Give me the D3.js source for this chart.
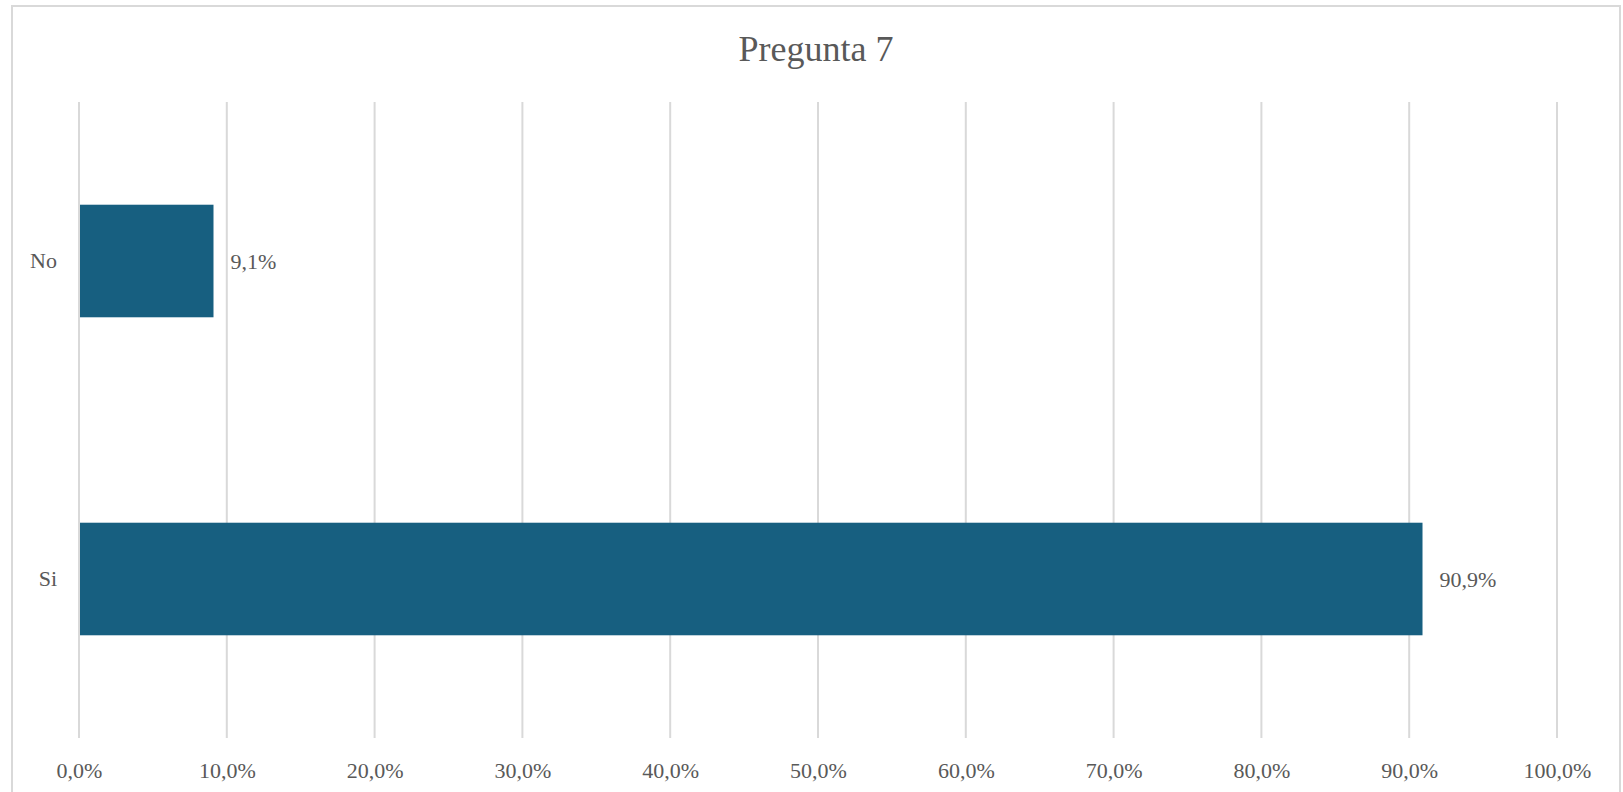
<!DOCTYPE html>
<html>
<head>
<meta charset="utf-8">
<script src="https://cdn.jsdelivr.net/npm/d3@7"></script>
<style>
  body { margin: 0; background: #fff; }
  text { font-family: "Liberation Serif", "Times New Roman", serif; fill: #595959; }
</style>
</head>
<body>
<div id="chart"></div>
<script>
// Chart data
const categories = ["No", "Si"];
const values = [9.1, 90.9];
const tickValues = [0, 10, 20, 30, 40, 50, 60, 70, 80, 90, 100];
const title = "Pregunta 7";

const width = 1623;
const height = 792;
const margin = {top: 102, right: 66, bottom: 54, left: 79};

const svg = d3.select("#chart")
    .append("svg")
    .attr("width", width)
    .attr("height", height);

// outer frame
svg.append("rect")
    .attr("x", 12)
    .attr("y", 6)
    .attr("width", 1608)
    .attr("height", 790)
    .attr("fill", "none")
    .attr("stroke", "#d9d9d9")
    .attr("stroke-width", 2);

const xScale = d3.scaleLinear()
    .domain([0, 100])
    .range([margin.left, width - margin.right]);

const yScale = d3.scaleBand()
    .domain(categories)
    .range([margin.top, height - margin.bottom])
    .paddingInner(0.646)
    .paddingOuter(0.323);

const fmt = v => v.toFixed(1).replace(".", ",") + "%";

// gridlines
svg.append("g")
    .selectAll("line")
    .data(tickValues)
    .join("line")
    .attr("x1", d => xScale(d))
    .attr("x2", d => xScale(d))
    .attr("y1", margin.top)
    .attr("y2", height - margin.bottom)
    .attr("stroke", "#d9d9d9")
    .attr("stroke-width", 2);

// x axis labels
const xAxis = svg.append("g")
    .attr("transform", `translate(0,${height - margin.bottom})`)
    .call(d3.axisBottom(xScale).tickValues(tickValues).tickFormat(fmt).tickSize(0).tickPadding(0));
xAxis.select(".domain").remove();
xAxis.selectAll("text")
    .attr("y", 40)
    .attr("dy", 0)
    .style("font-size", "22px")
    .style("font-family", "Liberation Serif")
    .attr("fill", "#595959");

// y axis labels
const yAxis = svg.append("g")
    .attr("transform", `translate(${margin.left},0)`)
    .call(d3.axisLeft(yScale).tickSize(0).tickPadding(22));
yAxis.select(".domain").remove();
yAxis.selectAll("text")
    .style("font-size", "22px")
    .style("font-family", "Liberation Serif")
    .attr("fill", "#595959");

// bars
svg.selectAll("rect.bar")
    .data(values)
    .join("rect")
    .attr("class", "bar")
    .attr("x", xScale(0) + 1)
    .attr("y", (d, i) => yScale(categories[i]))
    .attr("width", d => xScale(d) - xScale(0) - 1)
    .attr("height", yScale.bandwidth())
    .attr("fill", "#175f80");

// value labels
svg.selectAll("text.value")
    .data(values)
    .join("text")
    .attr("class", "value")
    .attr("x", d => xScale(d) + 17)
    .attr("y", (d, i) => yScale(categories[i]) + yScale.bandwidth() / 2)
    .attr("dy", "0.35em")
    .style("font-size", "22px")
    .text(d => fmt(d));

// title
svg.append("text")
    .attr("x", 816)
    .attr("y", 61)
    .attr("text-anchor", "middle")
    .style("font-size", "36px")
    .text(title);
</script>
</body>
</html>
